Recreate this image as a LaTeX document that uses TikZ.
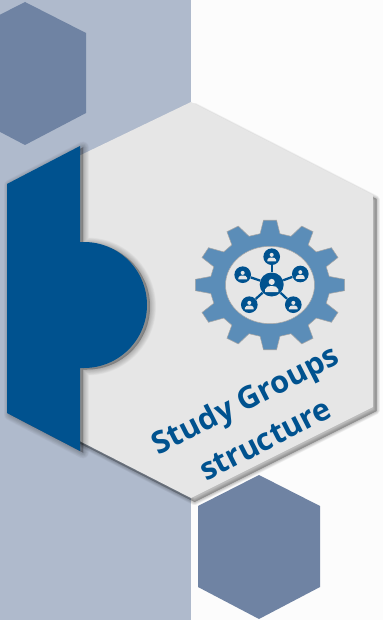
\documentclass[tikz,border=0pt]{standalone}
\usepackage{fontspec}
\setmainfont{Open Sans}
\definecolor{bandblue}{HTML}{AFBACC}
\definecolor{paperw}{HTML}{FCFCFC}
\definecolor{hexblue}{HTML}{6F83A3}
\definecolor{panelgray}{HTML}{E6E6E6}
\definecolor{deepblue}{HTML}{00528F}
\definecolor{gearblue}{HTML}{5B8DB8}
\tikzset{
  x=0.75pt,y=-0.75pt,
  softshadow/.style={fill=black,draw=black,fill opacity=0.04,draw opacity=0.04,line join=round},
  softerglow/.style={fill=black,draw=black,fill opacity=0.028,draw opacity=0.028,line join=round},
  satnode/.style={circle,fill=deepblue,minimum size=12.5pt,inner sep=0pt},
  hubnode/.style={circle,fill=deepblue,minimum size=18pt,inner sep=0pt},
  spoke/.style={draw=deepblue,line width=1.7pt},
  titletext/.style={text=deepblue,font=\bfseries\fontsize{23}{27}\selectfont,rotate=27,anchor=base,inner sep=0pt}
}
\newcommand{\personicon}[3]{% x y scale
  \begin{scope}[shift={(#1,#2)},scale=#3]
    \fill[panelgray] (0,-2.8) circle[radius=2.1];
    \fill[panelgray] (-4.6,4.2) -- (-4.6,2.4) .. controls (-4.2,0.3) and (-2,0) .. (0,0) .. controls (2,0) and (4.2,0.3) .. (4.6,2.4) -- (4.6,4.2) -- cycle;
  \end{scope}}
\newcommand{\bighex}{(191,102) -- (373,195) -- (373,407) -- (191,498) -- (60,431) -- (60,165) -- cycle}
\newcommand{\blueshape}{(80,146) -- (7,184) -- (7,413) -- (80,451) -- (80,368) -- (84,368) arc[start angle=90,end angle=-90,radius=63] -- (80,242) -- cycle}
\begin{document}
\begin{tikzpicture}
\useasboundingbox (0,0) rectangle (383,620);
\clip (0,0) rectangle (383,620);
\fill[paperw] (0,0) rectangle (383,620);
\fill[bandblue] (0,0) rectangle (191,620);
% small hexagons
\fill[hexblue] (25,2) -- (86,33) -- (86,113) -- (25,145) -- (-36,113) -- (-36,33) -- cycle;
\fill[hexblue] (259,475) -- (320,506) -- (320,587) -- (259,619) -- (198,587) -- (198,506) -- cycle;
% big hexagon shadow
\begin{scope}[shift={(3.5,4)}]
  \foreach \w in {5,4.2,3.4,2.6,1.8,1,0.2}{\path[softshadow,line width=\w pt] \bighex;}
\end{scope}
\fill[panelgray] \bighex;
% blue shape shadow
\begin{scope}[shift={(3,1.5)}]
  \foreach \w in {9,8,7,6,5,4,3,2,1,0.2}{\path[softerglow,line width=\w pt] \blueshape;}
\end{scope}
\fill[deepblue] \blueshape;
% gear
\begin{scope}[shift={(270,285)},xscale=75,yscale=65]
  \path[fill=gearblue,draw=gray!70,line width=0.4pt]
    (85:1)
    \foreach \a in {0,30,...,330}{
      -- ({90+\a-5}:1) -- ({90+\a+5}:1) -- ({90+\a+9.5}:0.8) -- ({90+\a+20.5}:0.8)
    } -- cycle;
  \fill[panelgray,draw=gray!70,line width=0.4pt] (0,0) ellipse[x radius=0.593,y radius=0.595];
\end{scope}
% network
\node[hubnode] (hub) at (271.7,284.5) {};
\node[satnode] (sA) at (271.7,256.7) {};
\node[satnode] (sB) at (300.3,274) {};
\node[satnode] (sC) at (242.7,274.7) {};
\node[satnode] (sD) at (249.3,304.7) {};
\node[satnode] (sE) at (293.3,304.7) {};
\foreach \s in {sA,sB,sC,sD,sE}{\draw[spoke] (hub) -- (\s);}
\personicon{271.7}{286}{1.45}
\personicon{271.7}{257.5}{0.95}
\personicon{300.3}{274.8}{0.95}
\personicon{242.7}{275.5}{0.95}
\personicon{249.3}{305.5}{0.95}
\personicon{293.3}{305.5}{0.95}
% titles
\node[titletext] (titleA) at (250,409) {Study Groups};
\node[titletext] (titleB) at (270,449) {structure};
\end{tikzpicture}
\end{document}
